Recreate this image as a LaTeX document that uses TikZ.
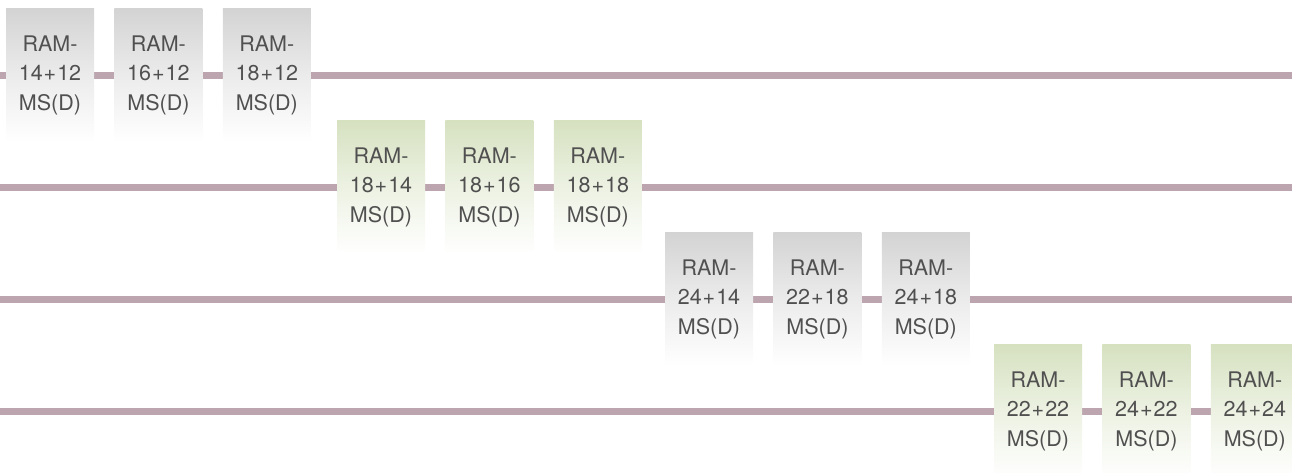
\documentclass[tikz,border=0pt]{standalone}
\usepackage{fontspec}
\setmainfont{TeX Gyre Heros}
\usepackage{tikz}
\usetikzlibrary{positioning}
\definecolor{linkmauve}{HTML}{BCA5AF}
\definecolor{boxgray}{HTML}{D3D3D3}
\definecolor{boxgreen}{HTML}{D6E1C0}
\definecolor{ramtext}{HTML}{505050}
\newcommand{\ramlabel}[2]{RAM-\\#1\kern1pt+\kern1pt#2\\MS(D)}

\begin{document}
\begin{tikzpicture}[x=1pt, y=-1pt,
    ram/.style={minimum width=88pt, minimum height=134pt, inner sep=0pt,
                align=center, text=ramtext, font=\fontsize{21.5}{29.5}\selectfont},
    graybox/.style={ram, top color=boxgray, bottom color=white, middle color=boxgray!45},
    greenbox/.style={ram, top color=boxgreen, bottom color=white, middle color=boxgreen!45},
    link/.style={draw=linkmauve, line width=7pt},
    node distance=20pt
  ]
    \useasboundingbox (0,0) rectangle (1292,472);

    % Line ends at the picture edges
    \coordinate (l1) at (0,75);    \coordinate (r1) at (1292,75);
    \coordinate (l2) at (0,187);   \coordinate (r2) at (1292,187);
    \coordinate (l3) at (0,299);   \coordinate (r3) at (1292,299);
    \coordinate (l4) at (0,411);   \coordinate (r4) at (1292,411);

    % Lines (behind the boxes)
    \draw[link] (l1) -- (r1);
    \draw[link] (l2) -- (r2);
    \draw[link] (l3) -- (r3);
    \draw[link] (l4) -- (r4);

    % Row 1
    \node[graybox] (a1) at (50,75) {\ramlabel{14}{12}};
    \node[graybox, right=of a1] (a2) {\ramlabel{16}{12}};
    \node[graybox, right=of a2] (a3) {\ramlabel{18}{12}};

    % Row 2
    \node[greenbox] (b1) at (381,187) {\ramlabel{18}{14}};
    \node[greenbox, right=of b1] (b2) {\ramlabel{18}{16}};
    \node[greenbox, right=of b2] (b3) {\ramlabel{18}{18}};

    % Row 3
    \node[graybox] (c1) at (709,299) {\ramlabel{24}{14}};
    \node[graybox, right=of c1] (c2) {\ramlabel{22}{18}};
    \node[graybox, right=of c2] (c3) {\ramlabel{24}{18}};

    % Row 4
    \node[greenbox] (d1) at (1038,411) {\ramlabel{22}{22}};
    \node[greenbox, right=of d1] (d2) {\ramlabel{24}{22}};
    \node[greenbox, right=of d2] (d3) {\ramlabel{24}{24}};
  \end{tikzpicture}
\end{document}
